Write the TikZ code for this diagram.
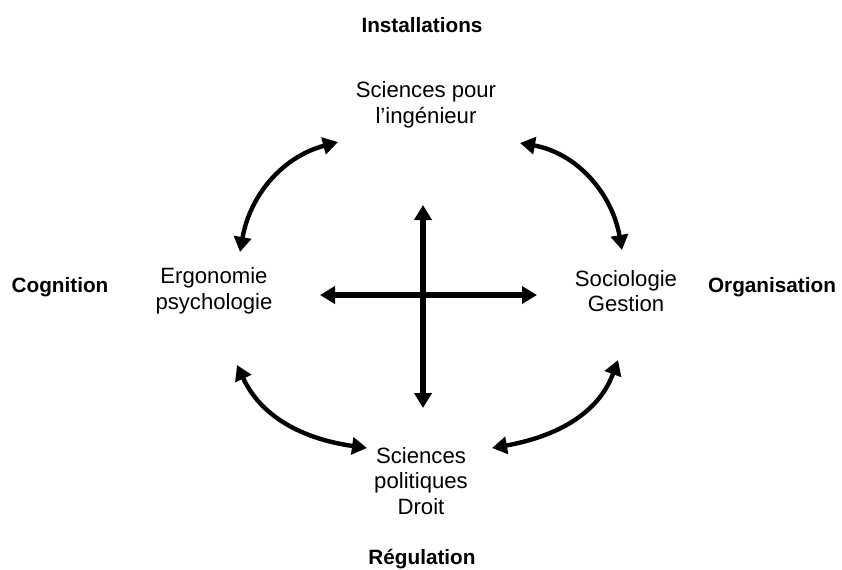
\documentclass[tikz,border=0pt]{standalone}
\usepackage{fontspec}
\setmainfont{Liberation Sans}
\usetikzlibrary{arrows.meta}
\begin{document}
\begin{tikzpicture}[x=.02cm,y=.02cm]
        \tikzstyle{field} = [align=center, text=black, font=\fontsize{12.6}{14.6}\selectfont]
        \tikzstyle{pole} = [anchor=base, text=black, font=\bfseries\fontsize{11.8}{14}\selectfont]
        \tikzstyle{line} = [{Triangle[length=.3cm,width=.34cm]}-{Triangle[length=.3cm,width=.34cm]},draw=black,line width=2.5pt]
        \tikzstyle{axis} = [line,line width=3pt]
        \useasboundingbox (0,0) rectangle (842,-569);
        \node[pole] (installations) at (422,-32) {Installations};
        \node[pole] (cognition) at (60,-292) {Cognition};
        \node[pole] (organisation) at (772,-292) {Organisation};
        \node[pole] (regulation) at (422,-564) {Régulation};
        \node[field] (spi) at (426,-105) {Sciences pour\\l’ingénieur};
        \node[field] (ergo) at (214,-291) {Ergonomie\\psychologie};
        \node[field] (socio) at (626,-291) {Sociologie\\Gestion};
        \node[field] (scpo) at (421,-481) {Sciences\\politiques\\Droit};
        %cross
        \coordinate (ctop) at (423,-205);
        \coordinate (cbottom) at (423,-408);
        \coordinate (cleft) at (320,-295);
        \coordinate (cright) at (537,-295);
        \draw[axis] (ctop) -- (cbottom);
        \draw[axis] (cleft) -- (cright);
        %arcs
        \draw[line] ([shift={(26,39)}]ergo.center) to[out=80,in=195] ([shift={(-88,-37)}]spi.center);
        \draw[line] ([shift={(94,-38)}]spi.center) to[out=-10,in=100] ([shift={(-4,41)}]socio.center);
        \draw[line] ([shift={(23,-74)}]ergo.center) to[out=-65,in=172] ([shift={(-54,33)}]scpo.center);
        \draw[line] ([shift={(71,33)}]scpo.center) to[out=10,in=-110] ([shift={(-8,-69)}]socio.center);
\end{tikzpicture}
\end{document}
